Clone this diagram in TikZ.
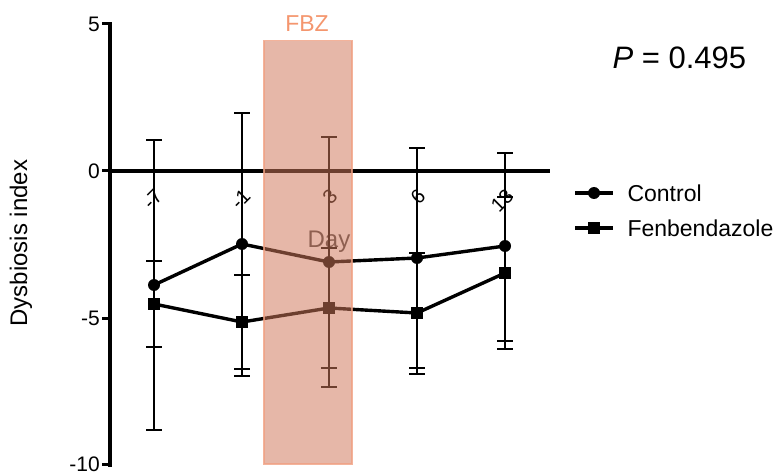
\documentclass[tikz,border=0pt]{standalone}
\usepackage{fontspec}
\setmainfont{Liberation Sans}
\definecolor{fbzfill}{RGB}{207,119,90}
\definecolor{fbzline}{RGB}{240,160,130}
\definecolor{fbztext}{RGB}{244,150,110}
\definecolor{daygray}{RGB}{70,70,70}
\tikzset{
  axisline/.style={line width=3.6pt, line cap=rect},
  tickline/.style={line width=3pt},
  dataline/.style={line width=3.4pt},
  errbar/.style={line width=2.8pt},
  circmark/.style={circle, fill=black, inner sep=0pt, minimum size=12pt},
  sqmark/.style={rectangle, fill=black, inner sep=0pt, minimum size=12pt},
  ticklab/.style={font=\fontsize{21}{21}\selectfont, anchor=east, inner sep=1pt},
  daylab/.style={font=\fontsize{20}{20}\selectfont, rotate=45, anchor=east, inner sep=0pt},
}
\newcommand{\ebar}[3]{%
  \draw[errbar] (#1,#2) -- (#1,#3);
  \draw[errbar] (#1-8,#2) -- (#1+8,#2);
  \draw[errbar] (#1-8,#3) -- (#1+8,#3);}
\begin{document}
\begin{tikzpicture}[x=1pt,y=-1pt]
\useasboundingbox (0,0) rectangle (784,473);
% axes
\draw[axisline] (110,24) -- (110,465);
\draw[axisline] (110,171) -- (548,171);
\foreach \yy/\lab in {24/5,171/0,318/-5,464/-10}{
  \draw[tickline] (102,\yy) -- (110,\yy);
  \node[ticklab] (yt\lab) at (101,\yy) {\lab};
}
\node[font=\fontsize{24}{24}\selectfont, rotate=90] (ylab) at (21,243) {Dysbiosis index};
% day labels
\foreach \xx/\lab/\nm in {154/-7/a,242/-1/b,329/3/c,417/6/d,505/13/e}{
  \node[daylab] (d\nm) at (\xx+5,193) {\lab};
}
\node[font=\fontsize{24}{24}\selectfont, text=daygray] (daylabel) at (329,242) {Day};
% error bars control
\ebar{154}{140}{430}
\ebar{242}{113}{376}
\ebar{329}{137}{387}
\ebar{417}{148}{368}
\ebar{505}{153}{341}
% error bars fenbendazole
\ebar{154}{261}{347}
\ebar{242}{275}{369}
\ebar{329}{248}{368}
\ebar{417}{253}{374}
\ebar{505}{197}{349}
% markers
\node[circmark] (c1) at (154,285) {};
\node[circmark] (c2) at (242,244) {};
\node[circmark] (c3) at (329,262) {};
\node[circmark] (c4) at (417,258) {};
\node[circmark] (c5) at (505,246) {};
\node[sqmark] (f1) at (154,304) {};
\node[sqmark] (f2) at (242,322) {};
\node[sqmark] (f3) at (329,308) {};
\node[sqmark] (f4) at (417,313) {};
\node[sqmark] (f5) at (505,273) {};
\draw[dataline] (c1.center) -- (c2.center) -- (c3.center) -- (c4.center) -- (c5.center);
\draw[dataline] (f1.center) -- (f2.center) -- (f3.center) -- (f4.center) -- (f5.center);
% FBZ band
\node[draw=fbzline, line width=1.5pt, fill=fbzfill, fill opacity=0.53, draw opacity=0.8,
      minimum width=88pt, minimum height=423pt, inner sep=0pt, anchor=north west] (band) at (263,40) {};
\node[font=\fontsize{23}{23}\selectfont, text=fbztext] (fbz) at (307,24) {FBZ};
% P value
\node[font=\fontsize{31}{31}\selectfont, anchor=west] (pval) at (609,58) {\textit{P} = 0.495};
% legend
\coordinate (l1a) at (575,193); \coordinate (l1b) at (613,193);
\coordinate (l2a) at (575,228); \coordinate (l2b) at (613,228);
\draw[dataline] (l1a) -- (l1b);
\draw[dataline] (l2a) -- (l2b);
\node[circmark] (lc) at (594,193) {};
\node[sqmark] (lf) at (594,228) {};
\node[font=\fontsize{23}{23}\selectfont, anchor=west] (legc) at (624,193) {Control};
\node[font=\fontsize{23}{23}\selectfont, anchor=west] (legf) at (624,228) {Fenbendazole};
\end{tikzpicture}
\end{document}
